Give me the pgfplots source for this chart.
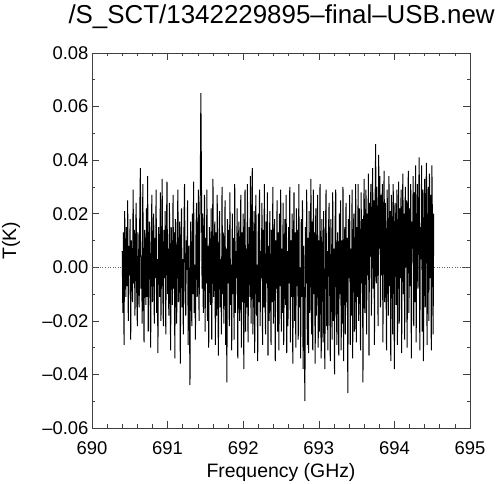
\documentclass[border=0pt]{standalone}
\usepackage{fontspec}
\setmainfont{Liberation Sans}
\usepackage{pgfplots}
\pgfplotsset{compat=1.18}
\begin{document}
\begin{tikzpicture}
\begin{axis}[
  at={(92bp,56bp)}, anchor=south west,
  scale only axis, width=378bp, height=375bp,
  xmin=690, xmax=695, ymin=-0.06, ymax=0.08,
  xtick={690,691,692,693,694,695},
  xticklabels={690,691,692,693,694,695},
  ytick={-0.06,-0.04,-0.02,0,0.02,0.04,0.06,0.08},
  yticklabels={–0.06,–0.04,–0.02,0.00,0.02,0.04,0.06,0.08},
  scaled y ticks=false, scaled x ticks=false,
  minor x tick num=4, minor y tick num=1,
  major tick length=7bp, minor tick length=3.5bp,
  axis line style={black!75, line width=0.8pt},
  tick style={black!75, line width=0.6pt},
  tick label style={font=\fontsize{18.5}{22}\selectfont},
  xticklabel style={anchor=base, yshift=-26bp},
  label style={font=\fontsize{19.5}{22}\selectfont},
  xlabel={Frequency (GHz)}, ylabel={T(K)},
  xlabel style={at={(axis description cs:0.5,-0.1307)}, anchor=base},
  ylabel style={at={(axis description cs:-0.201,0.5)}, anchor=base},
]
% zero level
\addplot[black!60, dotted, line width=0.6pt, forget plot] coordinates {(690,0) (695,0)};
% spectrum
\addplot[black, line width=1.0pt, line join=bevel] coordinates {
(690.400,0.006)(690.408,-0.017)(690.416,0.013)(690.424,-0.029)(690.432,0.021)(690.440,0.003)(690.448,-0.011)(690.456,0.015)(690.464,-0.007)(690.472,0.025)
(690.480,-0.020)(690.488,0.008)(690.496,-0.003)(690.504,0.018)(690.512,-0.027)(690.520,0.010)(690.528,0.001)(690.536,-0.013)(690.544,0.029)(690.552,-0.006)
(690.560,0.014)(690.568,-0.018)(690.576,0.007)(690.584,0.024)(690.592,-0.010)(690.600,-0.022)(690.608,0.013)(690.616,0.000)(690.624,-0.015)(690.632,0.020)
(690.640,0.037)(690.648,-0.008)(690.656,0.004)(690.664,-0.021)(690.672,0.031)(690.680,-0.001)(690.688,-0.028)(690.696,0.014)(690.704,0.008)(690.712,-0.014)
(690.720,0.022)(690.728,-0.011)(690.736,0.034)(690.744,-0.024)(690.752,0.006)(690.760,0.017)(690.768,-0.007)(690.776,-0.030)(690.784,0.011)(690.792,0.027)
(690.800,-0.013)(690.808,0.000)(690.816,0.020)(690.824,-0.021)(690.832,0.011)(690.840,-0.004)(690.848,0.029)(690.856,-0.017)(690.864,0.003)(690.872,-0.032)
(690.880,0.015)(690.888,0.008)(690.896,-0.011)(690.904,0.028)(690.912,-0.020)(690.920,0.004)(690.928,0.033)(690.936,-0.008)(690.944,-0.022)(690.952,0.014)
(690.960,-0.004)(690.968,0.021)(690.976,-0.025)(690.984,0.011)(690.992,0.032)(691.000,-0.010)(691.008,0.007)(691.016,-0.018)(691.024,0.024)(691.032,-0.003)
(691.040,-0.031)(691.048,0.015)(691.056,0.004)(691.064,-0.014)(691.072,0.027)(691.080,-0.008)(691.088,0.013)(691.096,-0.034)(691.104,0.018)(691.112,0.000)
(691.120,-0.021)(691.128,0.010)(691.136,0.029)(691.144,-0.013)(691.152,-0.001)(691.160,0.017)(691.168,-0.036)(691.176,0.006)(691.184,0.022)(691.192,-0.015)
(691.200,0.003)(691.208,-0.025)(691.216,0.013)(691.224,0.031)(691.232,-0.007)(691.240,-0.018)(691.248,0.010)(691.256,-0.001)(691.264,0.025)(691.272,-0.029)
(691.280,0.008)(691.288,-0.013)(691.296,-0.044)(691.304,0.017)(691.312,0.004)(691.320,-0.022)(691.328,0.020)(691.336,-0.010)(691.344,0.032)(691.352,-0.017)
(691.360,0.001)(691.368,-0.027)(691.376,0.014)(691.384,0.024)(691.392,-0.011)(691.400,-0.003)(691.408,0.029)(691.416,-0.020)(691.424,0.010)(691.432,0.027)
(691.440,0.065)(691.448,0.031)(691.456,-0.008)(691.464,0.020)(691.472,-0.017)(691.480,0.006)(691.488,0.027)(691.496,-0.024)(691.504,0.011)(691.512,-0.006)
(691.520,0.029)(691.528,-0.020)(691.536,0.008)(691.544,-0.030)(691.552,0.015)(691.560,0.000)(691.568,-0.014)(691.576,0.022)(691.584,-0.027)(691.592,0.006)
(691.600,0.033)(691.608,-0.011)(691.616,-0.004)(691.624,0.017)(691.632,-0.029)(691.640,0.013)(691.648,-0.018)(691.656,0.027)(691.664,-0.007)(691.672,-0.033)
(691.680,0.010)(691.688,0.021)(691.696,-0.015)(691.704,0.003)(691.712,-0.025)(691.720,0.030)(691.728,-0.010)(691.736,0.013)(691.744,-0.021)(691.752,-0.001)
(691.760,0.025)(691.768,-0.029)(691.776,0.007)(691.784,-0.043)(691.792,0.018)(691.800,-0.006)(691.808,0.014)(691.816,-0.022)(691.824,0.028)(691.832,-0.014)
(691.840,0.001)(691.848,-0.031)(691.856,0.020)(691.864,-0.010)(691.872,0.011)(691.880,-0.027)(691.888,0.031)(691.896,-0.017)(691.904,0.006)(691.912,-0.004)
(691.920,0.022)(691.928,-0.034)(691.936,0.008)(691.944,0.017)(691.952,-0.020)(691.960,-0.006)(691.968,0.027)(691.976,-0.030)(691.984,0.013)(691.992,-0.013)
(692.000,0.020)(692.008,-0.038)(692.016,0.004)(692.024,0.029)(692.032,-0.024)(692.040,0.007)(692.048,-0.015)(692.056,0.031)(692.064,-0.028)(692.072,0.000)
(692.080,0.015)(692.088,-0.011)(692.096,0.034)(692.104,-0.021)(692.112,0.007)(692.120,0.037)(692.128,-0.025)(692.136,-0.007)(692.144,0.021)(692.152,-0.032)
(692.160,0.011)(692.168,0.027)(692.176,-0.018)(692.184,0.001)(692.192,-0.035)(692.200,0.020)(692.208,-0.013)(692.216,0.029)(692.224,-0.022)(692.232,0.006)
(692.240,-0.004)(692.248,0.024)(692.256,-0.029)(692.264,0.014)(692.272,-0.015)(692.280,0.031)(692.288,-0.010)(692.296,-0.025)(692.304,0.017)(692.312,-0.006)
(692.320,0.028)(692.328,-0.033)(692.336,0.008)(692.344,-0.020)(692.352,0.021)(692.360,-0.001)(692.368,-0.029)(692.376,0.014)(692.384,-0.013)(692.392,0.030)
(692.400,-0.021)(692.408,0.004)(692.416,0.018)(692.424,-0.035)(692.432,0.010)(692.440,-0.008)(692.448,0.025)(692.456,-0.024)(692.464,0.013)(692.472,-0.031)
(692.480,0.020)(692.488,-0.007)(692.496,0.029)(692.504,-0.024)(692.512,0.007)(692.520,-0.017)(692.528,0.024)(692.536,-0.029)(692.544,0.001)(692.552,0.018)
(692.560,-0.014)(692.568,0.027)(692.576,-0.032)(692.584,0.006)(692.592,-0.022)(692.600,0.015)(692.608,-0.006)(692.616,0.030)(692.624,-0.028)(692.632,0.010)
(692.640,-0.011)(692.648,0.020)(692.656,-0.036)(692.664,0.003)(692.672,0.028)(692.680,-0.020)(692.688,0.013)(692.696,-0.030)(692.704,0.022)(692.712,-0.007)
(692.720,0.014)(692.728,-0.027)(692.736,0.031)(692.744,-0.015)(692.752,0.000)(692.760,-0.034)(692.768,0.018)(692.776,-0.011)(692.784,0.025)(692.792,-0.038)
(692.800,0.008)(692.808,-0.021)(692.816,-0.050)(692.824,0.015)(692.832,-0.006)(692.840,0.029)(692.848,-0.029)(692.856,0.011)(692.864,-0.032)(692.872,0.021)
(692.880,-0.017)(692.888,0.004)(692.896,0.033)(692.904,-0.025)(692.912,0.017)(692.920,-0.031)(692.928,0.029)(692.936,-0.010)(692.944,0.013)(692.952,-0.036)
(692.960,0.022)(692.968,-0.018)(692.976,0.001)(692.984,0.027)(692.992,-0.030)(693.000,0.010)(693.008,-0.024)(693.016,0.031)(693.024,-0.013)(693.032,-0.034)
(693.040,0.018)(693.048,0.004)(693.056,-0.028)(693.064,0.021)(693.072,-0.015)(693.080,-0.038)(693.088,0.014)(693.096,0.029)(693.104,-0.022)(693.112,0.006)
(693.120,-0.031)(693.128,0.013)(693.136,0.024)(693.144,-0.008)(693.152,-0.035)(693.160,0.018)(693.168,-0.001)(693.176,-0.027)(693.184,0.028)(693.192,-0.020)
(693.200,0.007)(693.208,-0.040)(693.216,0.017)(693.224,0.029)(693.232,-0.014)(693.240,-0.029)(693.248,0.013)(693.256,0.003)(693.264,-0.033)(693.272,0.020)
(693.280,-0.010)(693.288,0.025)(693.296,-0.031)(693.304,0.010)(693.312,-0.021)(693.320,0.030)(693.328,-0.035)(693.336,0.006)(693.344,0.015)(693.352,-0.025)
(693.360,0.024)(693.368,-0.013)(693.376,0.011)(693.384,-0.047)(693.392,0.018)(693.400,-0.004)(693.408,0.027)(693.416,-0.029)(693.424,0.007)(693.432,-0.018)
(693.440,0.029)(693.448,-0.034)(693.456,0.011)(693.464,0.020)(693.472,-0.024)(693.480,0.001)(693.488,0.031)(693.496,-0.028)(693.504,0.015)(693.512,-0.011)
(693.520,0.031)(693.528,-0.020)(693.536,0.022)(693.544,0.006)(693.552,-0.031)(693.560,0.028)(693.568,-0.006)(693.576,0.018)(693.584,-0.043)(693.592,0.013)
(693.600,0.033)(693.608,-0.017)(693.616,0.010)(693.624,0.029)(693.632,-0.025)(693.640,0.020)(693.648,-0.003)(693.656,0.035)(693.664,-0.033)(693.672,0.024)
(693.680,0.004)(693.688,0.031)(693.696,-0.018)(693.704,0.014)(693.712,0.037)(693.720,-0.008)(693.728,0.025)(693.736,-0.029)(693.744,0.021)(693.752,0.046)
(693.760,-0.006)(693.768,0.030)(693.776,0.013)(693.784,-0.022)(693.792,0.042)(693.800,0.007)(693.808,0.034)(693.816,-0.015)(693.824,0.027)(693.832,-0.003)
(693.840,0.031)(693.848,-0.028)(693.856,0.017)(693.864,0.036)(693.872,-0.013)(693.880,0.024)(693.888,0.001)(693.896,-0.031)(693.904,0.029)(693.912,0.011)
(693.920,-0.018)(693.928,0.034)(693.936,-0.007)(693.944,0.021)(693.952,-0.035)(693.960,0.027)(693.968,0.014)(693.976,-0.025)(693.984,0.031)(693.992,0.004)
(694.000,-0.038)(694.008,0.024)(694.016,0.015)(694.024,-0.014)(694.032,0.029)(694.040,-0.029)(694.048,0.010)(694.056,0.032)(694.064,-0.021)(694.072,0.022)
(694.080,-0.004)(694.088,0.029)(694.096,-0.032)(694.104,0.015)(694.112,0.035)(694.120,-0.010)(694.128,0.020)(694.136,-0.027)(694.144,0.030)(694.152,0.000)
(694.160,0.025)(694.168,-0.030)(694.176,0.013)(694.184,0.036)(694.192,-0.017)(694.200,0.022)(694.208,-0.007)(694.216,0.031)(694.224,-0.034)(694.232,0.017)
(694.240,0.007)(694.248,0.034)(694.256,-0.022)(694.264,0.028)(694.272,-0.013)(694.280,0.038)(694.288,-0.028)(694.296,0.014)(694.304,0.031)(694.312,-0.008)
(694.320,0.021)(694.328,0.041)(694.336,-0.031)(694.344,0.015)(694.352,0.003)(694.360,0.038)(694.368,-0.024)(694.376,0.029)(694.384,-0.035)(694.392,0.011)
(694.400,0.033)(694.408,-0.015)(694.416,0.024)(694.424,0.039)(694.432,-0.029)(694.440,0.008)(694.448,0.030)(694.456,-0.020)(694.464,0.035)(694.472,-0.004)
(694.480,0.027)(694.488,-0.031)(694.496,0.038)(694.504,0.013)(694.512,-0.025)(694.520,0.020)
};
\end{axis}
\node[anchor=base west, font=\fontsize{26}{30}\selectfont] at (65bp,460bp) {/S\_SCT/1342229895–final–USB.new};
\pgfresetboundingbox
\path[use as bounding box] (0,0) rectangle (500bp,484bp);
\end{tikzpicture}
\end{document}
